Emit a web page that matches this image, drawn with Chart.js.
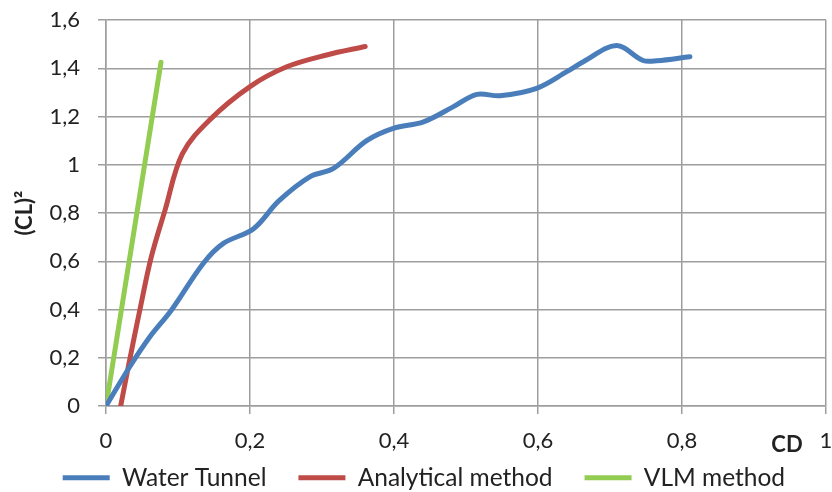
<!DOCTYPE html>
<html>
<head>
<meta charset="utf-8">
<script src="https://cdn.jsdelivr.net/npm/chart.js@4/dist/chart.umd.min.js"></script>
<style>
  html, body { margin: 0; padding: 0; background: #fff; }
  #wrap { width: 832px; height: 492px; }
</style>
</head>
<body>
<div id="wrap"><canvas id="grafico" width="832" height="492"></canvas></div>
<script>
// datos
const seriesNames = ['Water Tunnel', 'Analytical method', 'VLM method'];

const tunnelCD = [0, 0.033, 0.061, 0.091, 0.135, 0.163, 0.205, 0.24, 0.283, 0.316, 0.362, 0.399, 0.441, 0.482, 0.515, 0.547, 0.598, 0.640, 0.663, 0.709, 0.746, 0.765, 0.811];
const tunnelCL2 = [0, 0.163, 0.287, 0.398, 0.591, 0.674, 0.735, 0.85, 0.95, 0.985, 1.1, 1.151, 1.178, 1.24, 1.292, 1.286, 1.317, 1.386, 1.427, 1.494, 1.432, 1.431, 1.448];

const analyticCD = [0.0204, 0.031, 0.047, 0.063, 0.082, 0.106, 0.144, 0.2, 0.251, 0.3065, 0.36];
const analyticCL2 = [0, 0.163, 0.398, 0.619, 0.812, 1.045, 1.186, 1.324, 1.406, 1.455, 1.49];

const vlmCD = [0, 0.0764];
const vlmCL2 = [0, 1.425];

const xTickLabels = ['0', '0,2', '0,4', '0,6', '0,8', '1'];
const yTickLabels = ['0', '0,2', '0,4', '0,6', '0,8', '1', '1,2', '1,4', '1,6'];

const colores = ['#4A7EBB', '#BE4B48', '#92CC50'];

function puntos(xs, ys) {
  return xs.map((x, i) => ({ x: x, y: ys[i] }));
}

const fuente = 'Lato, "Open Sans", sans-serif';
Chart.defaults.font.family = fuente;
Chart.defaults.color = '#222';

// titulo "CD" junto a las etiquetas del eje x
const tituloCD = {
  id: 'tituloCD',
  afterDraw(chart) {
    const c = chart.ctx;
    c.save();
    c.font = 'bold 22px ' + fuente;
    c.fillStyle = '#222';
    c.textAlign = 'center';
    c.textBaseline = 'middle';
    c.fillText('CD', chart.chartArea.right - 39, chart.chartArea.bottom + 39);
    c.restore();
  }
};

const ctx = document.getElementById('grafico').getContext('2d');

const lineas = [
  { label: seriesNames[0], data: puntos(tunnelCD, tunnelCL2), borderColor: colores[0], backgroundColor: colores[0] },
  { label: seriesNames[1], data: puntos(analyticCD, analyticCL2), borderColor: colores[1], backgroundColor: colores[1] },
  { label: seriesNames[2], data: puntos(vlmCD, vlmCL2), borderColor: colores[2], backgroundColor: colores[2] }
].map(d => Object.assign(d, {
  borderWidth: 5,
  borderCapStyle: 'round',
  borderJoinStyle: 'round',
  pointRadius: 0,
  pointStyle: 'line',
  tension: 0.35,
  fill: false
}));

new Chart(ctx, {
  type: 'scatter',
  data: { datasets: lineas },
  plugins: [tituloCD],
  options: {
    responsive: false,
    animation: false,
    showLine: true,
    layout: { padding: { left: 30.7, right: 6, top: 20, bottom: -8 } },
    plugins: {
      tooltip: { enabled: false },
      legend: {
        position: 'bottom',
        align: 'start',
        labels: {
          usePointStyle: true,
          pointStyleWidth: 47,
          padding: 32,
          font: { size: 24.5 },
          color: '#222'
        }
      }
    },
    scales: {
      x: {
        type: 'linear',
        min: 0,
        max: 1,
        afterFit(scale) {
          scale.height = 27.45;
          scale.paddingLeft = 0;
          scale.paddingRight = 0;
        },
        ticks: {
          stepSize: 0.2,
          // mirror evita el recorte de las etiquetas; el padding negativo las baja
          mirror: true,
          padding: -47.7,
          font: { size: 22 },
          color: '#222',
          callback: (v, i) => xTickLabels[i]
        },
        grid: { color: '#9e9e9e', lineWidth: 1.5, tickLength: 8 },
        border: { color: '#9e9e9e', width: 1.5 }
      },
      y: {
        min: 0,
        max: 1.6,
        afterFit(scale) {
          scale.width = 75.3;
          scale.paddingTop = 0;
          scale.paddingBottom = 0;
        },
        ticks: {
          stepSize: 0.2,
          padding: 18,
          font: { size: 22 },
          color: '#222',
          callback: (v, i) => yTickLabels[i]
        },
        title: {
          display: true,
          text: '(CL)²',
          font: { size: 22, weight: 'bold' },
          color: '#222',
          padding: { top: -18.9, bottom: 0 }
        },
        grid: { color: '#9e9e9e', lineWidth: 1.5, tickLength: 8 },
        border: { color: '#9e9e9e', width: 1.5 }
      }
    }
  }
});
</script>
</body>
</html>
